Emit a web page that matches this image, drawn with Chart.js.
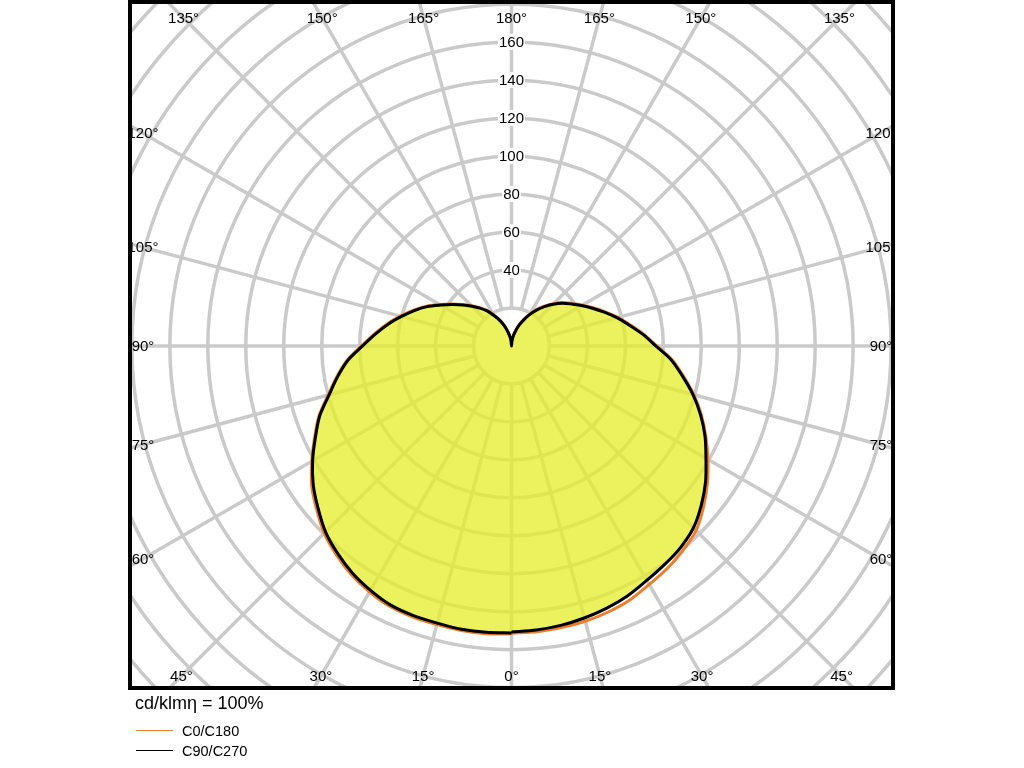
<!DOCTYPE html>
<html lang="en">
<head>
<meta charset="utf-8"/>
<title>Luminous intensity distribution</title>
<script src="https://cdn.jsdelivr.net/npm/chart.js@4.4.3/dist/chart.umd.min.js"></script>
<style>
  html, body { margin: 0; padding: 0; background: #fff; }
  #wrap { width: 1024px; height: 768px; }
</style>
</head>
<body>
<div id="wrap"><canvas id="ldc" width="1024" height="768"></canvas></div>
<script>
  // gamma angle from nadir (deg)
  const gammas = [0, 5, 10, 15, 20, 25, 30, 35, 40, 45, 50, 55, 60, 65, 70, 75, 80, 85, 90,
                  95, 100, 105, 110, 115, 120, 125, 130, 135, 140, 145, 150, 155, 160, 165, 170, 175, 180];

  // cd/klm, right half of the diagram
  const c0   = [151, 151, 150.5, 150, 149, 147.5, 145, 143, 140.5, 137.5, 132, 126, 119.5, 113, 106.5, 99.5, 92, 85, 76.5,
                70, 63.5, 58, 52.5, 47.5, 43, 39, 35.5, 31.5, 27.5, 23.5, 19.5, 15.5, 12, 8.5, 5.5, 2.5, 0];
  const c90  = [150.5, 150, 149.3, 148.2, 146.8, 145, 142.5, 140.5, 138.5, 135.5, 130.5, 124.8, 118.3, 112.5, 106, 99, 91.5, 84.5, 76,
                69.5, 63, 57.5, 52, 47, 42.5, 38.5, 35, 31, 27, 23, 19, 15, 11.5, 8, 5, 2.5, 0];
  // cd/klm, left half of the diagram
  const c180 = [151.5, 152, 152, 151.8, 151.8, 151.3, 149.5, 147, 143.5, 139.5, 134, 128.5, 121.5, 114.5, 108, 100, 93.5, 87, 79,
                72.5, 66.5, 60.5, 55, 49.5, 43.5, 38.5, 34, 30, 26.5, 23, 19, 15.5, 12, 8.5, 5.5, 2.5, 0];
  const c270 = [151, 151.3, 151.4, 151, 151, 150.5, 148.5, 146, 142.5, 138.5, 133, 127.5, 121, 114, 107.5, 99.5, 93, 86.5, 78.5,
                72, 66, 60, 54.5, 49, 43, 38, 33.5, 29.5, 26, 22.5, 18.5, 15, 11.5, 8, 5, 2.5, 0];

  const ringValues = [20, 40, 60, 80, 100, 120, 140, 160, 180, 200, 220, 240, 260, 280];
  const ringLabels = [40, 60, 80, 100, 120, 140, 160];
  const spokeAngles = [0, 15, 30, 45, 60, 75, 90, 105, 120, 135, 150, 165, 180,
                       195, 210, 225, 240, 255, 270, 285, 300, 315, 330, 345];

  const seriesNames = ['C0/C180', 'C90/C270'];
  const seriesColors = ['#f07d2a', '#000000'];
  const footerText = 'cd/klmη = 100%';

  const rad = d => d * Math.PI / 180;

  // closed outline: left half nadir -> zenith, then right half zenith -> nadir
  function outline(left, right) {
    const pts = gammas.map((g, i) => ({ x: -left[i] * Math.sin(rad(g)), y: -left[i] * Math.cos(rad(g)) }));
    for (let i = gammas.length - 2; i >= 0; i--) {
      pts.push({ x: right[i] * Math.sin(rad(gammas[i])), y: -right[i] * Math.cos(rad(gammas[i])) });
    }
    return pts;
  }

  const FONT = '"Liberation Sans", Arial, sans-serif';

  const polarGrid = {
    id: 'polarGrid',
    beforeDatasetsDraw(chart) {
      const { ctx, chartArea: a, scales: { x, y } } = chart;
      const cx = x.getPixelForValue(0), cy = y.getPixelForValue(0);
      const px = v => x.getPixelForValue(v) - cx;
      ctx.save();
      ctx.beginPath();
      ctx.rect(a.left, a.top, a.right - a.left, a.bottom - a.top);
      ctx.clip();

      ctx.strokeStyle = '#cacaca';
      ctx.lineWidth = 3.5;
      ringValues.forEach(v => {
        ctx.beginPath();
        ctx.arc(cx, cy, px(v), 0, 2 * Math.PI);
        ctx.stroke();
      });
      spokeAngles.forEach(g => {
        const s = -Math.sin(rad(g)), c = Math.cos(rad(g));
        ctx.beginPath();
        ctx.moveTo(cx + px(ringValues[0]) * s, cy + px(ringValues[0]) * c);
        ctx.lineTo(cx + px(320) * s, cy + px(320) * c);
        ctx.stroke();
      });

      ctx.font = '15px ' + FONT;
      ctx.textAlign = 'center';
      ctx.textBaseline = 'middle';
      ringLabels.forEach(v => {
        const ly = y.getPixelForValue(v);
        const w = ctx.measureText(String(v)).width;
        ctx.fillStyle = '#fff';
        ctx.fillRect(cx - w / 2 - 1, ly - 8, w + 2, 16);
        ctx.fillStyle = '#000';
        ctx.fillText(String(v), cx, ly + 1);
      });

      // angle labels where the spokes meet an inset frame
      const L = a.left + 13, R = a.right - 12, T = a.top + 16, B = a.bottom - 12;
      spokeAngles.forEach(g => {
        const dx = -Math.sin(rad(g)), dy = Math.cos(rad(g));
        let t = Infinity;
        if (dx < -1e-9) t = Math.min(t, (L - cx) / dx);
        if (dx > 1e-9) t = Math.min(t, (R - cx) / dx);
        if (dy < -1e-9) t = Math.min(t, (T - cy) / dy);
        if (dy > 1e-9) t = Math.min(t, (B - cy) / dy);
        const label = (g <= 180 ? g : 360 - g) + '°';
        ctx.fillStyle = '#000';
        ctx.fillText(label, cx + dx * t, cy + dy * t + 1);
      });
      ctx.restore();
    },
    afterDraw(chart) {
      const { ctx, chartArea: a } = chart;
      ctx.save();
      ctx.strokeStyle = '#000';
      ctx.lineWidth = 4;
      ctx.strokeRect(a.left, a.top, a.right - a.left, a.bottom - a.top);

      ctx.fillStyle = '#000';
      ctx.textAlign = 'left';
      ctx.textBaseline = 'alphabetic';
      ctx.font = '18px ' + FONT;
      ctx.fillText(footerText, a.left + 5, a.bottom + 21);

      ctx.font = '14.5px ' + FONT;
      ctx.textBaseline = 'middle';
      seriesNames.forEach((name, i) => {
        const ly = a.bottom + 42 + i * 20;
        ctx.strokeStyle = seriesColors[i];
        ctx.lineWidth = 1;
        ctx.beginPath();
        ctx.moveTo(a.left + 6, ly + 0.5);
        ctx.lineTo(a.left + 43, ly + 0.5);
        ctx.stroke();
        ctx.fillText(name, a.left + 52, ly + 2);
      });
      ctx.restore();
    }
  };

  new Chart(document.getElementById('ldc'), {
    type: 'scatter',
    data: {
      datasets: [
        {
          label: seriesNames[0],
          data: outline(c180, c0),
          showLine: true,
          tension: 0.3,
          borderColor: seriesColors[0],
          borderWidth: 3,
          borderJoinStyle: 'round',
          pointRadius: 0,
          fill: false,
          order: 2,
        },
        {
          label: seriesNames[1],
          data: outline(c270, c90),
          showLine: true,
          tension: 0.3,
          borderColor: seriesColors[1],
          backgroundColor: 'rgba(228, 238, 40, 0.75)',
          borderWidth: 3,
          borderJoinStyle: 'round',
          pointRadius: 0,
          fill: 'shape',
          order: 1,
        },
      ],
    },
    options: {
      responsive: false,
      animation: false,
      layout: { padding: { left: 130, right: 131, top: 2, bottom: 80 } },
      plugins: { legend: { display: false }, tooltip: { enabled: false } },
      scales: {
        x: { type: 'linear', min: -201, max: 201, display: false },
        y: { type: 'linear', min: -180, max: 181, display: false },
      },
    },
    plugins: [polarGrid],
  });
</script>
</body>
</html>
